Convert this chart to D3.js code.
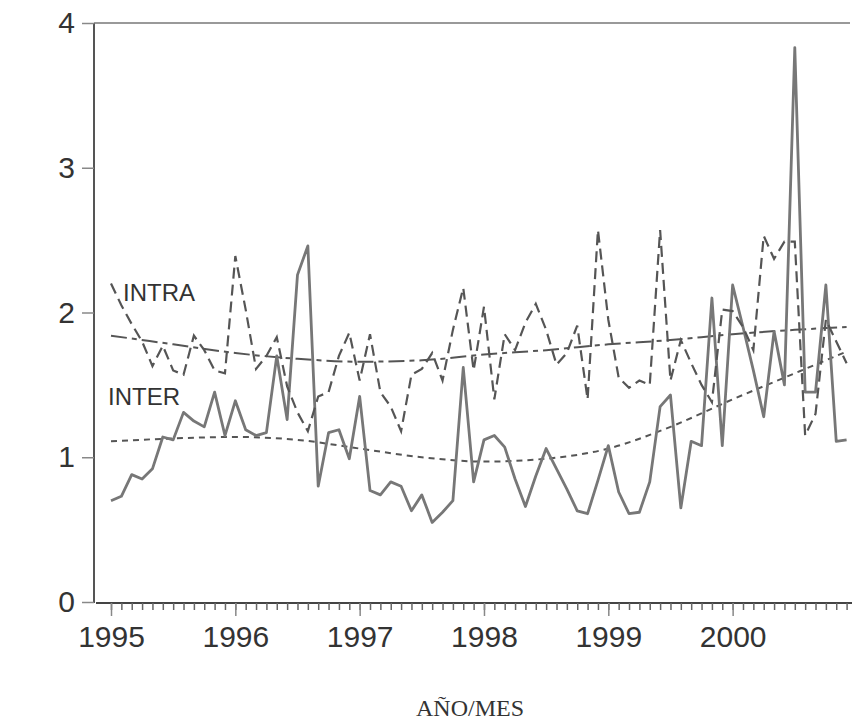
<!DOCTYPE html>
<html><head><meta charset="utf-8">
<script src="https://cdn.jsdelivr.net/npm/d3@7"></script>
<style>html,body{margin:0;padding:0;background:#fff;}</style>
</head><body>
<svg id="c" width="866" height="722"></svg>
<script>
const years = ["1995","1996","1997","1998","1999","2000"];
const yTicks = [0,1,2,3,4];
const inter = [0.70,0.73,0.88,0.85,0.92,1.14,1.12,1.31,1.25,1.21,1.45,1.15,
  1.39,1.19,1.15,1.17,1.70,1.26,2.26,2.46,0.80,1.17,1.19,0.99,
  1.42,0.77,0.74,0.83,0.80,0.63,0.74,0.55,0.62,0.70,1.62,0.83,
  1.12,1.15,1.07,0.85,0.66,0.87,1.06,0.92,0.78,0.63,0.61,0.84,
  1.08,0.76,0.61,0.62,0.83,1.35,1.43,0.65,1.11,1.08,2.10,1.08,
  2.19,1.90,1.60,1.28,1.87,1.50,3.83,1.45,1.45,2.19,1.11,1.12];
const intra = [2.20,2.05,1.92,1.80,1.63,1.77,1.60,1.57,1.84,1.74,1.60,1.58,
  2.39,2.02,1.61,1.70,1.83,1.49,1.31,1.18,1.42,1.45,1.70,1.86,
  1.53,1.85,1.45,1.35,1.18,1.57,1.61,1.72,1.53,1.88,2.17,1.60,
  2.04,1.40,1.85,1.74,1.93,2.06,1.88,1.64,1.72,1.91,1.40,2.57,
  1.95,1.55,1.48,1.53,1.50,2.57,1.53,1.81,1.65,1.50,1.38,2.02,
  2.01,1.90,1.74,2.53,2.37,2.49,2.49,1.15,1.30,1.95,1.80,1.65];
const trendIdx = [0,6,12,18,24,30,36,42,48,54,60,66,71];
const intraTrend = [1.84,1.78,1.72,1.68,1.66,1.67,1.71,1.74,1.78,1.81,1.85,1.88,1.90];
const interTrend = [1.11,1.13,1.14,1.12,1.06,1.00,0.97,0.99,1.06,1.21,1.40,1.58,1.73];

const svg = d3.select("#c");
svg.append("rect").attr("width",866).attr("height",722).attr("fill","#fff");
const x = d3.scaleLinear().domain([0,71]).range([111,846.6]);
const y = d3.scaleLinear().domain([0,4]).range([602,23]);
const sans = "Liberation Sans, Arial, sans-serif";

svg.append("line").attr("x1",94).attr("x2",94).attr("y1",y(4)).attr("y2",603)
  .attr("stroke","#555").attr("stroke-width",2);
svg.append("line").attr("x1",94).attr("x2",850).attr("y1",y(4)).attr("y2",y(4))
  .attr("stroke","#777").attr("stroke-width",1.5);

const ya = svg.append("g").attr("transform","translate(94,0)")
  .call(d3.axisLeft(y).tickValues(yTicks).tickSize(12).tickPadding(7).tickFormat(d3.format("d")));
ya.select(".domain").remove();
ya.selectAll("line").attr("stroke","#888").attr("stroke-width",1.5);
ya.selectAll("text").attr("font-family",sans).attr("font-size",30).attr("fill","#333");

const xm = svg.append("g").attr("transform","translate(0,603)")
  .call(d3.axisBottom(x).tickValues(d3.range(0,72)).tickSize(7).tickFormat(""));
xm.select(".domain").attr("d","M96,0H852").attr("stroke","#444").attr("stroke-width",2);
xm.selectAll("line").attr("stroke","#666").attr("stroke-width",1.5);
const xa = svg.append("g").attr("transform","translate(0,603)")
  .call(d3.axisBottom(x).tickValues(d3.range(0,72,12)).tickSize(13).tickPadding(10)
    .tickFormat((d,i)=>years[i]));
xa.select(".domain").remove();
xa.selectAll("line").attr("stroke","#888").attr("stroke-width",1.5);
xa.selectAll("text").attr("font-family",sans).attr("font-size",30).attr("fill","#333");

const line = d3.line().x((d,i)=>x(i)).y(d=>y(d));
const tline = d3.line().x(d=>x(d[0])).y(d=>y(d[1])).curve(d3.curveMonotoneX);

svg.append("path").attr("d",tline(trendIdx.map((t,i)=>[t,interTrend[i]])))
  .attr("fill","none").attr("stroke","#555").attr("stroke-width",2).attr("stroke-dasharray","6,5");
svg.append("path").attr("d",tline(trendIdx.map((t,i)=>[t,intraTrend[i]])))
  .attr("fill","none").attr("stroke","#555").attr("stroke-width",2).attr("stroke-dasharray","16,5,5,5");
svg.append("path").attr("d",line(inter))
  .attr("fill","none").attr("stroke","#777").attr("stroke-width",2.8).attr("stroke-linejoin","round");
svg.append("path").attr("d",line(intra))
  .attr("fill","none").attr("stroke","#555").attr("stroke-width",2.2).attr("stroke-dasharray","11,6");

svg.append("text").attr("x",123).attr("y",301).text("INTRA")
  .attr("font-family",sans).attr("font-size",24).attr("fill","#333");
svg.append("text").attr("x",108).attr("y",405).text("INTER")
  .attr("font-family",sans).attr("font-size",24).attr("fill","#333");

svg.append("text").attr("x",470).attr("y",716).attr("text-anchor","middle").text("AÑO/MES")
  .attr("font-family","Liberation Serif, Times New Roman, serif").attr("font-size",24).attr("fill","#333");
</script>
</body></html>
